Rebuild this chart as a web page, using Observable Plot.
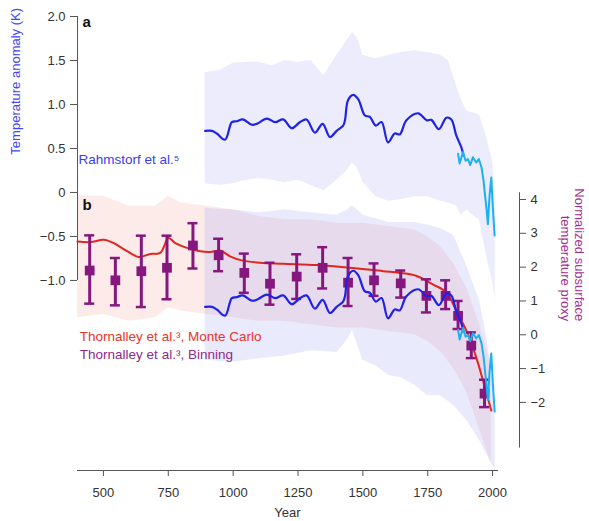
<!DOCTYPE html>
<html>
<head>
<meta charset="utf-8">
<script src="https://cdn.jsdelivr.net/npm/d3@7"></script>
<script src="https://cdn.jsdelivr.net/npm/@observablehq/plot@0.6"></script>
<style>
  html, body { margin: 0; padding: 0; background: #fff; }
  #chart svg { display: block; }
</style>
</head>
<body>
<div id="chart"></div>
<script>
// ---------- Rahmstorf et al. (reconstruction, K) ----------
const rahmYears = [892, 918, 937, 969, 995, 1014, 1037, 1072, 1091, 1130, 1162, 1193, 1226, 1258, 1283, 1315, 1345, 1373, 1399, 1424, 1431, 1443, 1463, 1482, 1508, 1527, 1550, 1572, 1597, 1623, 1642, 1668, 1713, 1747, 1764, 1793, 1822, 1841, 1860, 1880, 1888];
const rahmValues = [0.70, 0.70, 0.67, 0.60, 0.80, 0.81, 0.83, 0.77, 0.78, 0.84, 0.80, 0.83, 0.73, 0.80, 0.83, 0.68, 0.78, 0.63, 0.70, 0.76, 0.82, 1.05, 1.11, 1.06, 0.875, 0.86, 0.76, 0.80, 0.57, 0.67, 0.66, 0.82, 0.90, 0.82, 0.825, 0.72, 0.85, 0.83, 0.65, 0.51, 0.42];

// ---------- Rahmstorf et al. (instrumental, K) ----------
const instrYears = [1867, 1873, 1886, 1896, 1905, 1914, 1924, 1937, 1947, 1957, 1965, 1976, 1982, 1988, 1995, 2001, 2008];
const instrValues = [0.44, 0.33, 0.46, 0.36, 0.38, 0.31, 0.40, 0.34, 0.38, 0.29, 0.14, -0.17, -0.36, -0.05, 0.17, -0.17, -0.49];

// ---------- Rahmstorf uncertainty, panel a (K) ----------
const bandAYears = [892, 950, 1000, 1050, 1100, 1150, 1200, 1250, 1300, 1350, 1400, 1440, 1460, 1480, 1500, 1550, 1600, 1650, 1700, 1750, 1800, 1830, 1860, 1880, 1900, 1950, 1980, 2000, 2010];
const bandAHigh = [1.36, 1.39, 1.47, 1.48, 1.48, 1.44, 1.50, 1.48, 1.50, 1.33, 1.56, 1.73, 1.82, 1.75, 1.56, 1.52, 1.56, 1.59, 1.61, 1.59, 1.56, 1.50, 1.22, 1.05, 0.93, 0.88, 0.59, 0.36, -0.09];
const bandALow = [0.10, 0.08, 0.10, 0.14, 0.16, 0.14, 0.11, 0.14, 0.08, 0.02, 0.14, 0.25, 0.34, 0.27, 0.12, -0.05, -0.10, -0.08, -0.05, -0.05, -0.10, -0.12, -0.15, -0.26, -0.20, -0.32, -0.77, -1.00, -1.23];

// ---------- Rahmstorf uncertainty, panel b (K) ----------
const bandBYears = [892, 1000, 1100, 1200, 1300, 1400, 1440, 1460, 1480, 1500, 1550, 1600, 1650, 1700, 1750, 1800, 1850, 1900, 1950, 1980, 2000, 2010];
const bandBHigh = [-0.18, -0.20, -0.23, -0.20, -0.23, -0.26, -0.20, -0.15, -0.20, -0.26, -0.30, -0.34, -0.34, -0.34, -0.37, -0.41, -0.49, -0.83, -1.23, -1.68, -2.14, -2.59];
const bandBLow = [-1.91, -1.93, -1.89, -1.86, -1.80, -1.82, -1.68, -1.57, -1.74, -1.91, -1.97, -2.08, -2.11, -2.19, -2.31, -2.31, -2.42, -2.59, -2.82, -2.99, -3.10, -3.16];
const panelBOffsetK = -2.0; // Rahmstorf curve repeated in panel b, shifted down

// ---------- Thornalley et al., Monte Carlo (normalized proxy) ----------
const mcYears = [400, 450, 501, 540, 591, 636, 681, 719, 751, 777, 822, 873, 912, 950, 988, 1033, 1104, 1193, 1322, 1430, 1578, 1642, 1707, 1770, 1822, 1860, 1899, 1937, 1963, 1995];
const mcValues = [2.76, 2.74, 2.81, 2.71, 2.47, 2.30, 2.39, 2.42, 2.86, 2.71, 2.57, 2.47, 2.45, 2.49, 2.32, 2.20, 2.13, 2.10, 2.06, 2.00, 1.88, 1.83, 1.74, 1.49, 1.25, 0.71, 0.12, -0.67, -1.35, -2.24];
const mcBandYears = [400, 500, 600, 700, 750, 800, 900, 1000, 1100, 1200, 1300, 1400, 1500, 1600, 1700, 1750, 1800, 1850, 1900, 1950, 1995];
const mcBandHigh = [4.1, 4.1, 3.8, 3.8, 4.1, 3.9, 3.8, 3.7, 3.5, 3.4, 3.4, 3.3, 3.3, 3.2, 3.1, 2.9, 2.6, 2.1, 1.4, 0.3, -0.9];
const mcBandLow = [0.5, 0.6, 0.4, 0.5, 0.8, 0.7, 0.6, 0.5, 0.4, 0.4, 0.3, 0.2, 0.2, 0.1, 0.0, -0.2, -0.5, -1.0, -1.7, -2.8, -3.8];

// ---------- Thornalley et al., Binning (normalized proxy) ----------
const binYears = [447, 546, 646, 745, 845, 944, 1043, 1142, 1245, 1345, 1443, 1543, 1646, 1745, 1819, 1867, 1918, 1969];
const binMid = [1.90, 1.61, 1.88, 1.98, 2.64, 2.35, 1.83, 1.51, 1.72, 1.98, 1.54, 1.61, 1.52, 1.15, 1.15, 0.56, -0.32, -1.74];
const binHigh = [2.94, 2.27, 2.93, 2.93, 3.30, 2.84, 2.40, 2.13, 2.38, 2.59, 2.27, 2.11, 1.90, 1.64, 1.61, 1.00, 0.07, -1.33];
const binLow = [0.92, 0.87, 0.82, 1.05, 1.96, 1.88, 1.24, 0.89, 1.06, 1.37, 0.85, 1.15, 1.10, 0.66, 0.76, 0.17, -0.69, -2.14];

// ---------- axes ----------
const xTicks = [500, 750, 1000, 1250, 1500, 1750, 2000];
const xDomain = [400, 2019];
const leftTicks = [2.0, 1.5, 1.0, 0.5, 0, -0.5, -1.0];
const yDomainK = [-3.16, 2.0];
const rightTicks = [4, 3, 2, 1, 0, -1, -2];
const rightAxisExtent = [4.2, -3.35];
// alignment of right (proxy) axis with left (K) axis
const proxyRef = [-2, 4];
const proxyRefK = [-2.386, -0.080];

// ---------- text ----------
const labelA = "a", labelB = "b";
const rahmLabel = "Rahmstorf et al.\u2075";
const mcLabel = "Thornalley et al.\u00B3, Monte Carlo";
const binLabel = "Thornalley et al.\u00B3, Binning";
const leftTitle = "Temperature anomaly (K)";
const rightTitle = "Normalized subsurface\ntemperature proxy";
const xTitle = "Year";

// ---------- build tables ----------
const proxyToK = d3.scaleLinear(proxyRef, proxyRefK);
const rahm = rahmYears.map((year, i) => ({year, v: rahmValues[i]}));
const instr = instrYears.map((year, i) => ({year, v: instrValues[i]}));
const bandA = bandAYears.map((year, i) => ({year, hi: bandAHigh[i], lo: bandALow[i]}));
const bandB = bandBYears.map((year, i) => ({year, hi: bandBHigh[i], lo: bandBLow[i]}));
const mc = mcYears.map((year, i) => ({year, v: mcValues[i]}));
const mcBand = mcBandYears.map((year, i) => ({year, hi: mcBandHigh[i], lo: mcBandLow[i]}));
const bins = binYears.map((year, i) => ({year, mid: binMid[i], hi: binHigh[i], lo: binLow[i]}));

const fmtLeft = d => d === 0 ? "0" : d3.format(".1f")(d);
const fmtRight = d => d3.format("d")(d);

const axisStroke = "#555";
const axisText = "#333";
const blue = "#1f22e6";
const cyan = "#1cb0ee";
const red = "#e2261f";
const purple = "#86177f";
const lavender = "#a0a0f5";
const pink = "#f0a59a";

const chart = Plot.plot({
  width: 589,
  height: 521,
  marginLeft: 77,
  marginRight: 92,
  marginTop: 16,
  marginBottom: 51,
  style: {fontFamily: "'Liberation Sans', Arial, Helvetica, sans-serif", fontSize: "13px", background: "#fff"},
  x: {domain: xDomain},
  y: {domain: yDomainK},
  marks: [
    // uncertainty bands
    Plot.areaY(bandA, {x: "year", y1: "lo", y2: "hi", fill: lavender, fillOpacity: 0.2}),
    Plot.areaY(mcBand, {x: "year", y1: d => proxyToK(d.lo), y2: d => proxyToK(d.hi), fill: pink, fillOpacity: 0.22}),
    Plot.areaY(bandB, {x: "year", y1: "lo", y2: "hi", fill: lavender, fillOpacity: 0.22}),

    // Monte Carlo line
    Plot.line(mc, {x: "year", y: d => proxyToK(d.v), stroke: red, strokeWidth: 2, curve: "catmull-rom"}),

    // Binning error bars
    Plot.ruleX(bins, {x: "year", y1: d => proxyToK(d.lo), y2: d => proxyToK(d.hi), stroke: purple, strokeWidth: 3}),
    Plot.ruleY(bins, {x1: "year", x2: "year", y: d => proxyToK(d.hi), insetLeft: -5, insetRight: -5, stroke: purple, strokeWidth: 2.5}),
    Plot.ruleY(bins, {x1: "year", x2: "year", y: d => proxyToK(d.lo), insetLeft: -5, insetRight: -5, stroke: purple, strokeWidth: 2.5}),
    Plot.dot(bins, {x: "year", y: d => proxyToK(d.mid), symbol: "square", r: 5.5, fill: purple, stroke: null}),

    // Rahmstorf lines (panel a and panel b)
    Plot.line(rahm, {x: "year", y: "v", stroke: blue, strokeWidth: 2.2, curve: "catmull-rom"}),
    Plot.line(rahm, {x: "year", y: d => d.v + panelBOffsetK, stroke: blue, strokeWidth: 2.2, curve: "catmull-rom"}),
    Plot.line(instr, {x: "year", y: "v", stroke: cyan, strokeWidth: 2}),
    Plot.line(instr, {x: "year", y: d => d.v + panelBOffsetK, stroke: cyan, strokeWidth: 2}),

    // bottom axis
    Plot.frame({anchor: "bottom", stroke: axisStroke}),
    Plot.axisX({ticks: xTicks, tickSize: 6, tickPadding: 11, label: null, stroke: axisStroke, fill: axisText, tickFormat: d3.format("d")}),
    Plot.text([xTitle], {frameAnchor: "bottom", dy: 37, lineAnchor: "top", fill: axisText, fontSize: 13}),

    // left axis
    Plot.ruleX([xDomain[0]], {y1: d3.max(leftTicks), y2: d3.min(leftTicks), stroke: axisStroke}),
    Plot.axisY({ticks: leftTicks, anchor: "left", tickSize: 7, tickPadding: 5, label: null, stroke: axisStroke, fill: axisText, tickFormat: fmtLeft}),
    Plot.text([leftTitle], {frameAnchor: "left", y: [0.43], dx: -62, rotate: -90, fill: "#4545f3", fontSize: 13}),

    // right axis
    Plot.ruleX([xDomain[1]], {y1: proxyToK(rightAxisExtent[0]), y2: proxyToK(rightAxisExtent[1]), dx: 22, stroke: axisStroke}),
    Plot.axisY({ticks: rightTicks.map(proxyToK), anchor: "right", dx: 22, tickSize: 6, tickPadding: 5, label: null, stroke: axisStroke, fill: axisText,
      tickFormat: k => fmtRight(Math.round(proxyToK.invert(k)))}),
    Plot.text([rightTitle], {frameAnchor: "right", y: [proxyToK(0.4)], dx: 75, rotate: 90, lineAnchor: "middle", lineHeight: 1.08, fill: "#a6318e", fontSize: 13}),

    // panel letters and legend texts
    Plot.text([labelA], {x: [419], y: [1.94], textAnchor: "start", fontWeight: "bold", fontSize: 15, fill: "#111"}),
    Plot.text([labelB], {x: [419], y: [-0.15], textAnchor: "start", fontWeight: "bold", fontSize: 15, fill: "#111"}),
    Plot.text([rahmLabel], {x: [404], y: [0.37], textAnchor: "start", fontSize: 13.5, fill: "#3b3bf0"}),
    Plot.text([mcLabel], {x: [409], y: [-1.64], textAnchor: "start", fontSize: 13.5, fill: "#e5352c"}),
    Plot.text([binLabel], {x: [409], y: [-1.84], textAnchor: "start", fontSize: 13.5, fill: "#8e2a8c"})
  ]
});

document.getElementById("chart").appendChild(chart);
</script>
</body>
</html>
